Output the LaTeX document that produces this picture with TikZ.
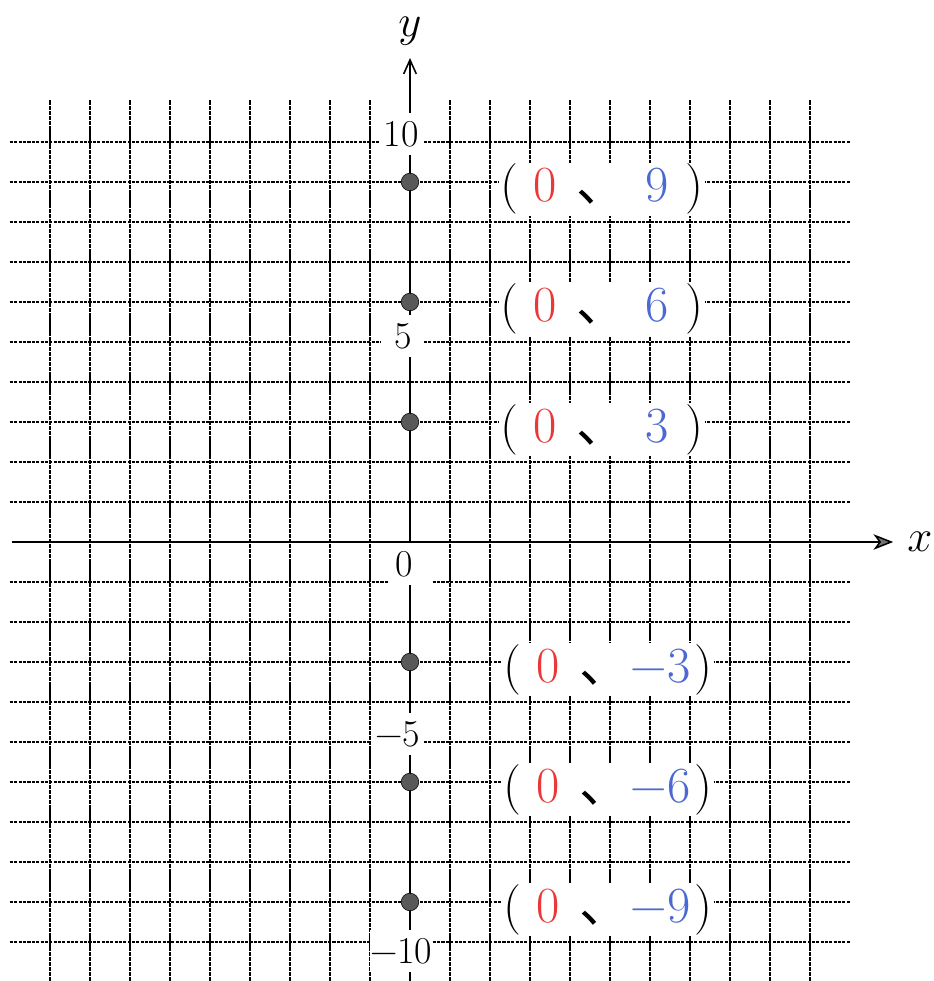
\documentclass[tikz,border=0pt]{standalone}
\usepackage{fix-cm}
\usepackage{fontspec}
\newfontfamily\cjk{Noto Sans CJK JP}
\usepackage{tikz}
\usetikzlibrary{arrows.meta}

\definecolor{ptred}{RGB}{235,55,55}
\definecolor{ptblue}{RGB}{75,105,210}

\newcommand{\posxy}[1]{(\hspace{11pt}\textcolor{ptred}{0}\hspace{14pt}{\cjk 、}\hspace{13pt}\textcolor{ptblue}{#1}\hspace{12pt})}
\newcommand{\negxy}[1]{(\hspace{11pt}\textcolor{ptred}{0}\hspace{14pt}{\cjk 、}\hspace{0.5pt}\textcolor{ptblue}{−#1}\hspace{3pt})}

\begin{document}
\begin{tikzpicture}[
    hgrid/.style={line width=0.8pt, dash pattern=on 2.2pt off 0.9pt},
    vgrid/.style={line width=0.9pt, dash pattern=on 3pt off 0.5pt},
    axis/.style={line width=1.1pt},
    axlabel/.style={fill=white, inner sep=0pt, minimum width=1.07cm, minimum height=1.05cm, font=\fontsize{27}{32}\selectfont},
    ptlabel/.style={fill=white, inner sep=1pt, anchor=base west, font=\fontsize{36}{42}\selectfont},
    dot/.style={fill=black!65, draw=black, line width=0.4pt}
  ]
  \useasboundingbox (-10.25,-10.975) rectangle (13.1,13.55);

  % grid
  \foreach \y in {-10,...,-1,1,2,...,10}
    \draw [hgrid] (-10,\y) -- (11,\y);
  \foreach \x in {-9,...,-1,1,2,...,10}
    \draw [vgrid] (\x,-10.975) -- (\x,11.05);

  % y axis
  \draw [axis, -{Straight Barb[length=10pt, width=9pt]}] (0,-10.975) -- (0,12.1);
  \node (ylab) at (0,12.78) {\fontsize{32}{38}\selectfont$y$};

  % points on the y axis
  \foreach \y in {9,6,3,-3,-6,-9}
    \fill [dot] (0,\y) circle (0.22);

  % tick labels
  \node [axlabel] (t10) at (-0.22,10.2) {10};
  \node [axlabel] (t5) at (-0.18,5.15) {5};
  \node [axlabel] (t0) at (0,-0.55) {\hspace{-8pt}0};
  \node [axlabel, minimum width=1.32cm] (tm5) at (-0.3,-4.8) {−5};
  \node [axlabel, minimum width=1.42cm] (tm10) at (-0.22,-10.23) {\raisebox{-6pt}{−10}};

  % x axis
  \draw [axis, -{Stealth[length=14pt, width=11pt, inset=4pt, fill=black!55]}] (-9.95,0) -- (12.08,0);
  \node (xlab) at (12.75,0) {\fontsize{32}{38}\selectfont$x$};

  % coordinates
  \node [ptlabel] (p9) at (2.22,8.5) {\posxy{9}};
  \node [ptlabel] (p6) at (2.22,5.5) {\posxy{6}};
  \node [ptlabel] (p3) at (2.22,2.5) {\posxy{3}};
  \node [ptlabel] (m3) at (2.29,-3.5) {\negxy{3}};
  \node [ptlabel] (m6) at (2.29,-6.5) {\negxy{6}};
  \node [ptlabel] (m9) at (2.29,-9.5) {\negxy{9}};
\end{tikzpicture}
\end{document}
